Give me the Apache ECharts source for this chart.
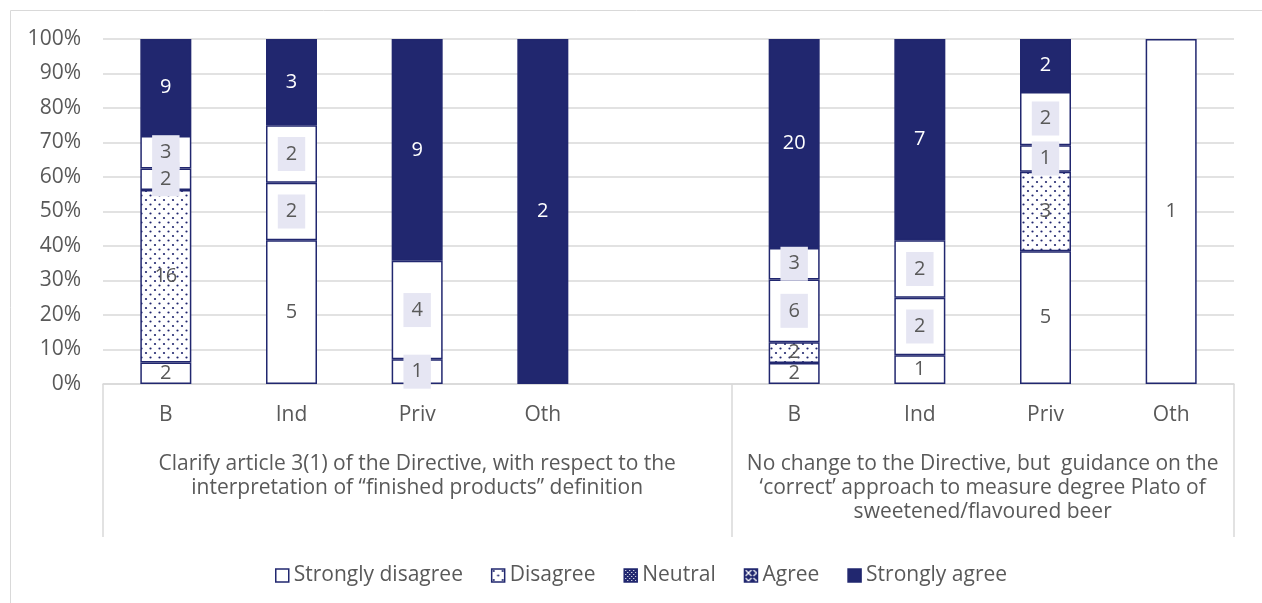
<!DOCTYPE html>
<html>
<head>
<meta charset="utf-8">
<script src="https://cdn.jsdelivr.net/npm/echarts@6/dist/echarts.min.js"></script>
<style>
html, body { margin: 0; padding: 0; background: #fff; }
#main { width: 1262px; height: 603px; }
</style>
</head>
<body>
<div id="main"></div>
<script>
// categories (empty slot separates the two questions)
var categories = ['B', 'Ind', 'Priv', 'Oth', '', 'B', 'Ind', 'Priv', 'Oth'];
var groupLabels = [
    'Clarify article 3(1) of the Directive, with respect to the\ninterpretation of \u201cfinished products\u201d definition',
    'No change to the Directive, but  guidance on the\n\u2018correct\u2019 approach to measure degree Plato of\nsweetened/flavoured beer'
];
var seriesNames = ['Strongly disagree', 'Disagree', 'Neutral', 'Agree', 'Strongly agree'];

// counts of answers
var stronglyDisagree = [2, 5, 1, 0, 0, 2, 1, 5, 1];
var disagree         = [16, 2, 4, 0, 0, 2, 2, 3, 0];
var neutral          = [2, 2, 0, 0, 0, 6, 2, 1, 0];
var agree            = [3, 0, 0, 0, 0, 3, 0, 2, 0];
var stronglyAgree    = [9, 3, 9, 2, 0, 20, 7, 2, 0];

var yTicks = [0, 10, 20, 30, 40, 50, 60, 70, 80, 90, 100];

var navy = '#21276f';
var grey = '#595959';
var font = 'Open Sans';

// how the excel picture drew some of the segments / labels
var boxed = [
    [0, 0, 1, 0, 0, 0, 0, 0, 0],
    [0, 1, 1, 0, 0, 0, 1, 0, 0],
    [1, 1, 0, 0, 0, 1, 1, 1, 0],
    [1, 0, 0, 0, 0, 1, 0, 1, 0],
    [0, 0, 0, 0, 0, 0, 0, 0, 0]
];
var dotted = [1, 0, 0, 0, 0, 1, 0, 1, 0];

function tile(w, h, draw){
    var c = document.createElement('canvas');
    c.width = w; c.height = h;
    draw(c.getContext('2d'), w, h);
    return { image: c, repeat: 'repeat' };
}
var dotFill = tile(9, 9, function(ctx){
    ctx.fillStyle = '#fff'; ctx.fillRect(0, 0, 9, 9);
    ctx.fillStyle = navy;
    ctx.beginPath(); ctx.arc(2, 2, 1.1, 0, Math.PI * 2); ctx.fill();
    ctx.beginPath(); ctx.arc(6.5, 6.5, 1.1, 0, Math.PI * 2); ctx.fill();
});
var neutralFill = tile(4, 4, function(ctx){
    ctx.fillStyle = navy; ctx.fillRect(0, 0, 4, 4);
    ctx.fillStyle = '#fff';
    ctx.fillRect(1, 1, 1, 1); ctx.fillRect(3, 3, 1, 1);
});
var crossFill = tile(8, 8, function(ctx){
    ctx.fillStyle = navy; ctx.fillRect(0, 0, 8, 8);
    ctx.strokeStyle = '#fff'; ctx.lineWidth = 1.2;
    ctx.beginPath();
    ctx.moveTo(1, 1); ctx.lineTo(7, 7);
    ctx.moveTo(7, 1); ctx.lineTo(1, 7);
    ctx.stroke();
});

var counts = [stronglyDisagree, disagree, neutral, agree, stronglyAgree];
var totals = categories.map(function(c, i){
    return counts.reduce(function(s, arr){ return s + arr[i]; }, 0);
});

var series = counts.map(function(arr, k){
    return {
        name: seriesNames[k],
        type: 'bar',
        stack: 'all',
        barWidth: 51,
        itemStyle: {
            color: k === 4 ? navy : '#fff',
            borderColor: navy,
            borderWidth: 1.5
        },
        label: {
            show: true,
            position: 'inside',
            fontFamily: font,
            fontSize: 20,
            color: k === 4 ? '#fff' : grey,
            formatter: function(p){ return p.data.raw ? String(p.data.raw) : ''; }
        },
        data: arr.map(function(v, i){
            if (!v) return { value: null, raw: 0 };
            var item = { value: v / totals[i] * 100, raw: v };
            if (k === 1 && dotted[i]) item.itemStyle = { color: dotFill };
            if (boxed[k][i]) item.label = { backgroundColor: '#e6e6f3', padding: [7, 8, 7, 8] };
            return item;
        })
    };
});

var legendStyles = [
    { color: '#fff', borderColor: navy, borderWidth: 1.5 },
    { color: dotFill, borderColor: navy, borderWidth: 1.5 },
    { color: neutralFill, borderColor: navy, borderWidth: 1.5 },
    { color: crossFill, borderColor: navy, borderWidth: 1.5 },
    { color: navy, borderColor: navy, borderWidth: 1.5 }
];

var myChart = echarts.init(document.getElementById('main'));

var option = {
    animation: false,
    grid: { left: 103, right: 28, top: 39, bottom: 219 },
    graphic: [{
        type: 'rect',
        silent: true,
        z: -10,
        shape: { x: 10.5, y: 10.5, width: 1400, height: 800 },
        style: { fill: 'none', stroke: '#d9d9d9', lineWidth: 1 }
    }],
    legend: {
        left: 270,
        top: 560,
        itemWidth: 13,
        itemHeight: 13,
        itemGap: 28,
        textStyle: { fontFamily: font, fontSize: 21, color: grey },
        data: seriesNames.map(function(n, k){
            return { name: n, icon: 'rect', itemStyle: legendStyles[k] };
        })
    },
    xAxis: [{
        type: 'category',
        data: categories,
        axisLine: { lineStyle: { color: '#d9d9d9', width: 1.5 } },
        axisTick: { show: false },
        axisLabel: { fontFamily: font, fontSize: 21, color: grey, margin: 21, interval: 0 }
    }, {
        type: 'value',
        min: 0,
        max: 9,
        position: 'bottom',
        axisLine: { show: false },
        splitLine: { show: false },
        axisTick: {
            show: true,
            customValues: [0, 5, 9],
            length: 153,
            lineStyle: { color: '#d9d9d9', width: 1.5 }
        },
        axisLabel: {
            customValues: [2.5, 7],
            fontFamily: font,
            fontSize: 21,
            lineHeight: 24,
            color: grey,
            margin: 68,
            verticalAlign: 'top',
            formatter: function(v){ return v < 5 ? groupLabels[0] : groupLabels[1]; }
        }
    }],
    yAxis: {
        type: 'value',
        min: yTicks[0],
        max: yTicks[yTicks.length - 1],
        interval: yTicks[1] - yTicks[0],
        axisLine: { show: false },
        axisTick: { show: false },
        splitLine: { lineStyle: { color: '#d9d9d9', width: 1.5 } },
        axisLabel: { fontFamily: font, fontSize: 21, color: grey, margin: 22, formatter: '{value}%' }
    },
    series: series
};

myChart.setOption(option);
</script>
</body>
</html>
